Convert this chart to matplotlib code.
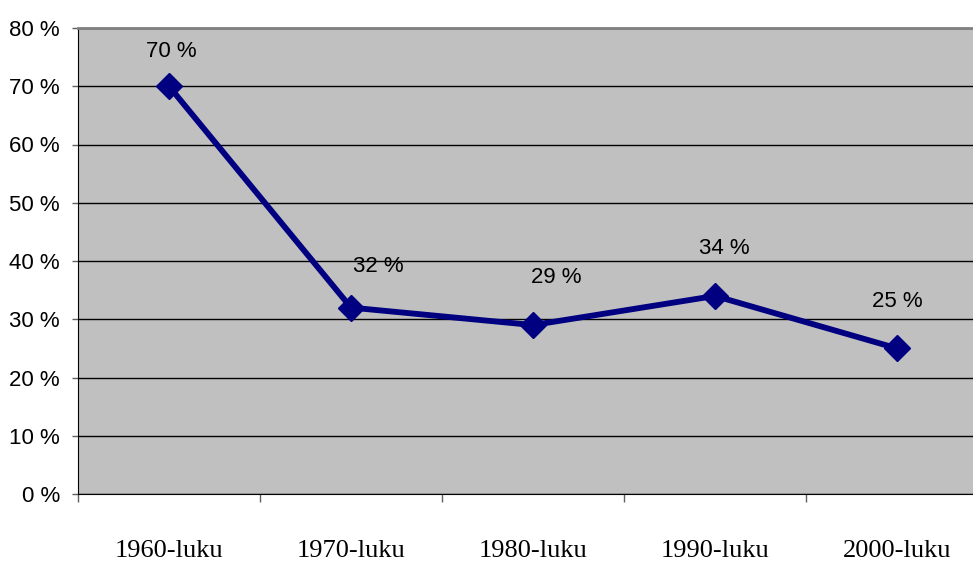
import matplotlib
matplotlib.use("Agg")
import matplotlib.pyplot as plt

# data
decades = ["1960-luku", "1970-luku", "1980-luku", "1990-luku", "2000-luku"]
shares = [70, 32, 29, 34, 25]
label_offsets = [(1.5, 25), (19.5, 29.5), (17, 34), (6.5, 34.5), (0, 34)]  # points

fig = plt.figure(figsize=(9.73, 5.61), dpi=100)
# plot area runs a bit past the right edge, like the original
ax = fig.add_axes([78 / 973, 67 / 561, 910 / 973, 466 / 561])
ax.set_facecolor("#C0C0C0")

x = list(range(len(decades)))
ax.plot(x, shares, color="#000080", linewidth=4.2, marker="D",
        markersize=13, markerfacecolor="#000080", markeredgecolor="#000080",
        zorder=3, clip_on=False)

for xi, v, off in zip(x, shares, label_offsets):
    ax.annotate(f"{v} %", (xi, v), xytext=off, textcoords="offset points",
                ha="center", va="center", fontsize=16,
                family="Liberation Sans")

ax.set_xlim(-0.5, len(decades) - 0.5)
ax.set_ylim(0, 80)
ax.set_yticks(range(0, 81, 10))
ax.set_yticklabels([f"{t} %" for t in range(0, 81, 10)],
                   family="Liberation Sans", fontsize=16)
ax.yaxis.grid(True, color="black", linewidth=1)
ax.set_axisbelow(True)

ax.set_xticks([i - 0.5 for i in range(len(decades) + 1)])
ax.set_xticklabels([])
ax.set_xticks(x, minor=True)
ax.set_xticklabels(decades, minor=True, family="Liberation Serif", fontsize=19)
ax.tick_params(axis="x", which="minor", length=0, pad=33)
ax.tick_params(axis="x", which="major", length=6, width=1, color="#606060")
ax.tick_params(axis="y", length=4.5, width=1, pad=8.5, color="#606060")

ax.spines["top"].set_color("#808080")
ax.spines["top"].set_linewidth(2)
ax.spines["left"].set_color("black")
ax.spines["bottom"].set_color("black")
ax.spines["right"].set_visible(False)

fig.savefig("out.png", dpi=100)
